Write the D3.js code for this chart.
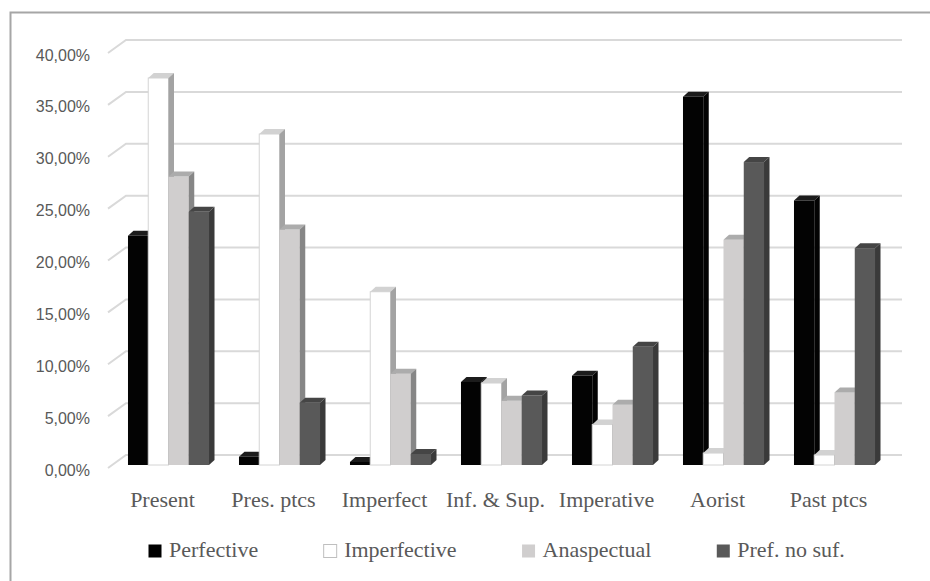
<!DOCTYPE html>
<html>
<head>
<meta charset="utf-8">
<script src="https://cdn.jsdelivr.net/npm/d3@7"></script>
<style>
  body { margin: 0; background: #fff; }
  svg text.serif { font-family: "Liberation Serif", "DejaVu Serif", serif; }
</style>
</head>
<body>
<div id="chart"></div>
<script>
// data
let categories = ["Present", "Pres. ptcs", "Imperfect", "Inf. & Sup.", "Imperative", "Aorist", "Past ptcs"]
let seriesNames = ["Perfective", "Imperfective", "Anaspectual", "Pref. no suf."]
let perfective   = [0.221, 0.008, 0.003, 0.080, 0.086, 0.355, 0.255]
let imperfective = [0.373, 0.319, 0.167, 0.079, 0.039, 0.0115, 0.0096]
let anaspectual  = [0.278, 0.227, 0.088, 0.062, 0.058, 0.217, 0.070]
let prefNoSuf    = [0.244, 0.060, 0.0106, 0.067, 0.114, 0.292, 0.209]
let yTicks = [0, 0.05, 0.10, 0.15, 0.20, 0.25, 0.30, 0.35, 0.40]

let seriesValues = [perfective, imperfective, anaspectual, prefNoSuf]

let width = 930
let height = 581

// faces: front, top, side, stroke
let faceColors = [
  {front: "#030303", top: "#1c1c1c", side: "#030303", stroke: "none"},
  {front: "#ffffff", top: "#d2d2d2", side: "#a3a3a3", stroke: "#d4d4d4"},
  {front: "#d0cece", top: "#acacac", side: "#868686", stroke: "none"},
  {front: "#595959", top: "#454545", side: "#3a3a3a", stroke: "none"}
]
let legendBox = ["#000000", "#ffffff", "#d0cece", "#595959"]

let svg = d3.select("#chart")
  .append("svg")
  .attr("width", width)
  .attr("height", height)

// outer frame (cut at right and bottom)
svg.append("path")
  .attr("d", `M10.5,${height} V12.5 H${width}`)
  .attr("fill", "none")
  .attr("stroke", "#a6a6a6")
  .attr("stroke-width", 2)

let fmt = d3.formatLocale({decimal: ",", thousands: ".", grouping: [3], currency: ["", "€"]}).format(".2%")

// back wall scale and bar (front) scale
let yBack = d3.scaleLinear().domain([0, 0.40]).range([455, 40])
let yBar = d3.scaleLinear().domain([0, 0.40]).range([465, 50])

let wallDx = 18, wallDy = 13
let barDx = 5.5, barDy = 5

// gridlines + side wall diagonals
let grid = svg.append("g")
grid.selectAll("path")
  .data(yTicks)
  .enter()
  .append("path")
  .attr("d", d => `M108,${yBack(d) + wallDy} L${108 + wallDx},${yBack(d)} L902,${yBack(d)}`)
  .attr("fill", "none")
  .attr("stroke", "#d9d9d9")
  .attr("stroke-width", 2)

svg.append("g").selectAll("text")
  .data(yTicks)
  .enter()
  .append("text")
  .attr("x", 90)
  .attr("y", d => yBack(d) + wallDy + 2)
  .attr("dy", "0.35em")
  .attr("text-anchor", "end")
  .style("font-family", "'Liberation Sans', Arial, sans-serif")
  .style("font-size", "16px")
  .attr("fill", "#595959")
  .text(d => fmt(d))

// x scales
let xScale = d3.scaleBand()
  .domain(categories)
  .range([113, 890])
  .paddingInner(0.27)
  .paddingOuter(0.135)

let xSub = d3.scaleBand()
  .domain(seriesNames)
  .range([0, xScale.bandwidth()])

let bars = []
categories.forEach((c, i) => {
  seriesNames.forEach((s, j) => {
    bars.push({cat: c, series: s, j: j, value: seriesValues[j][i]})
  })
})

let base = yBar(0)
let barG = svg.append("g")
let barEls = barG.selectAll("g")
  .data(bars)
  .enter()
  .append("g")

barEls.append("rect")
  .attr("x", d => xScale(d.cat) + xSub(d.series))
  .attr("y", d => yBar(d.value))
  .attr("width", xSub.bandwidth())
  .attr("height", d => base - yBar(d.value))
  .attr("fill", d => faceColors[d.j].front)
  .attr("stroke", d => faceColors[d.j].stroke)
  .attr("stroke-width", 1)

barEls.append("path")
  .attr("d", d => {
    let x0 = xScale(d.cat) + xSub(d.series), w = xSub.bandwidth(), yv = yBar(d.value)
    return `M${x0},${yv} L${x0 + barDx},${yv - barDy} L${x0 + w + barDx},${yv - barDy} L${x0 + w},${yv} Z`
  })
  .attr("fill", d => faceColors[d.j].top)

barEls.append("path")
  .attr("d", d => {
    let x0 = xScale(d.cat) + xSub(d.series), w = xSub.bandwidth(), yv = yBar(d.value)
    return `M${x0 + w},${yv} L${x0 + w + barDx},${yv - barDy} L${x0 + w + barDx},${base - barDy} L${x0 + w},${base} Z`
  })
  .attr("fill", d => faceColors[d.j].side)

// category axis
let xAxis = d3.axisBottom(xScale).tickSize(0)
let xg = svg.append("g")
  .attr("transform", `translate(-6,0)`)
  .call(xAxis)
  .attr("font-family", null)
  .attr("font-size", null)
xg.select(".domain").remove()
xg.selectAll("text")
  .attr("y", 507)
  .attr("dy", 0)
  .attr("class", "serif")
  .style("font-size", "22px")
  .attr("fill", "#595959")

// legend
let legend = svg.append("g")
let lx = 148
seriesNames.forEach((s, j) => {
  let item = legend.append("g").attr("transform", `translate(${lx},0)`)
  item.append("rect")
    .attr("x", 0.5)
    .attr("y", 544.5)
    .attr("width", 13)
    .attr("height", 13)
    .attr("fill", legendBox[j])
    .attr("stroke", j == 1 ? "#bfbfbf" : "none")
  let t = item.append("text")
    .attr("x", 21)
    .attr("y", 557)
    .attr("class", "serif")
    .style("font-size", "22px")
    .attr("fill", "#595959")
    .text(s)
  lx += 21 + t.node().getComputedTextLength() + 65
})
</script>
</body>
</html>
